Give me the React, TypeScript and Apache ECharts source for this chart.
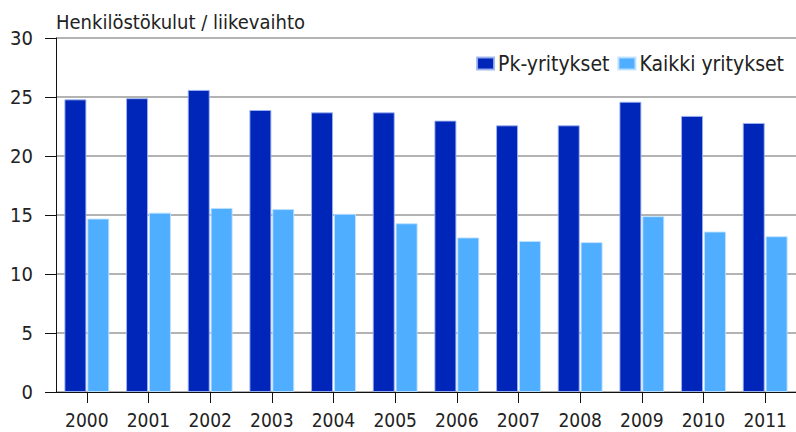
import React, { useEffect, useRef } from "react";
import * as echarts from "echarts";

const years = ["2000", "2001", "2002", "2003", "2004", "2005", "2006", "2007", "2008", "2009", "2010", "2011"];
const pkYritykset = [24.8, 24.9, 25.6, 23.9, 23.7, 23.7, 23.0, 22.6, 22.6, 24.6, 23.4, 22.8];
const kaikkiYritykset = [14.7, 15.2, 15.6, 15.5, 15.1, 14.3, 13.1, 12.8, 12.7, 14.9, 13.6, 13.2];
const yTicks = { min: 0, max: 30, interval: 5 };

const FONT = "'DejaVu Sans Condensed', 'DejaVu Sans', sans-serif";

export default function App() {
  const ref = useRef<HTMLDivElement>(null);
  useEffect(() => {
    if (!ref.current) return;
    const chart = echarts.init(ref.current, null, { renderer: "svg" });
    chart.setOption({
      animation: false,
      backgroundColor: "#ffffff",
      title: {
        text: "Henkilöstökulut / liikevaihto",
        left: 56,
        top: 12,
        padding: 0,
        textStyle: { fontFamily: FONT, fontSize: 20, fontWeight: "normal", color: "#222222" },
      },
      legend: {
        right: 12,
        top: 53,
        padding: 0,
        itemWidth: 17,
        itemHeight: 12,
        itemGap: 8,
        icon: "rect",
        textStyle: { fontFamily: FONT, fontSize: 21, color: "#222222", padding: [0, 0, 0, -1] },
        data: ["Pk-yritykset", "Kaikki yritykset"],
      },
      grid: { left: 56, top: 38, width: 745, height: 354, containLabel: false },
      xAxis: {
        type: "category",
        data: years,
        axisLine: { lineStyle: { color: "#111111", width: 1 } },
        axisTick: { show: true, alignWithLabel: true, length: 11, lineStyle: { color: "#111111" } },
        axisLabel: { fontFamily: FONT, fontSize: 19, color: "#222222", margin: 18 },
      },
      yAxis: {
        type: "value",
        min: yTicks.min,
        max: yTicks.max,
        interval: yTicks.interval,
        axisLine: { show: true, lineStyle: { color: "#111111", width: 1 } },
        axisTick: { show: true, length: 11, lineStyle: { color: "#111111" } },
        axisLabel: { fontFamily: FONT, fontSize: 20, color: "#222222", margin: 23 },
        splitLine: { show: true, lineStyle: { color: "#9a9a9a", width: 1.5 } },
      },
      series: [
        {
          name: "Pk-yritykset",
          type: "bar",
          data: pkYritykset,
          barWidth: 22,
          barGap: "4%",
          itemStyle: { color: "#0026B9", borderColor: "rgba(160,180,240,0.9)", borderWidth: 1 },
        },
        {
          name: "Kaikki yritykset",
          type: "bar",
          data: kaikkiYritykset,
          barWidth: 22,
          barGap: "4%",
          itemStyle: { color: "#4FAEFF", borderColor: "rgba(190,225,255,0.9)", borderWidth: 1 },
        },
      ],
    });
    return () => chart.dispose();
  }, []);
  return <div ref={ref} style={{ width: 796, height: 432, position: "absolute", left: 0, top: 0 }} />;
}
